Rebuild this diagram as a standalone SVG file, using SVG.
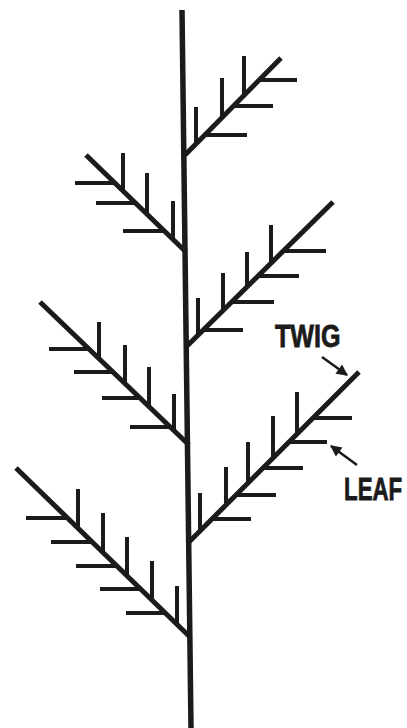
<svg xmlns="http://www.w3.org/2000/svg" width="407" height="728" viewBox="0 0 407 728">
  <style>
    .stem { stroke: #1b1b1b; stroke-width: 5.5; fill: none; stroke-linecap: butt; }
    .twig { stroke: #1b1b1b; stroke-width: 5; fill: none; stroke-linecap: butt; }
    .leaf { stroke: #1b1b1b; stroke-width: 4; fill: none; stroke-linecap: butt; }
    .ptr  { stroke: #1b1b1b; stroke-width: 2.5; fill: none; }
    .lbl  { font-family: "Liberation Sans", Arial, sans-serif; font-weight: bold; font-size: 31px; fill: #1b1b1b; stroke: #1b1b1b; stroke-width: 0.8; }
  </style>
  <defs>
    <marker id="head" viewBox="0 0 10 10" refX="9" refY="5" markerWidth="5" markerHeight="4.5" orient="auto" markerUnits="strokeWidth">
      <path d="M0,0 L10,5 L0,10 Z" fill="#1b1b1b"/>
    </marker>
  </defs>

  <rect width="407" height="728" fill="#ffffff"/>

  <!-- main stem -->
  <g id="stem">
    <line class="stem" x1="182" y1="10" x2="191" y2="728"/>
  </g>

  <!-- top right branch -->
  <g id="branch-1">
    <line class="twig" x1="185" y1="155" x2="281" y2="58"/>
    <line class="leaf" x1="196" y1="107" x2="196" y2="145"/>
    <line class="leaf" x1="204" y1="135" x2="247" y2="135"/>
    <line class="leaf" x1="222" y1="78" x2="222" y2="119"/>
    <line class="leaf" x1="233" y1="106" x2="273" y2="106"/>
    <line class="leaf" x1="244" y1="56" x2="244" y2="97"/>
    <line class="leaf" x1="259" y1="80" x2="297" y2="80"/>
  </g>

  <!-- upper left branch -->
  <g id="branch-2">
    <line class="twig" x1="86" y1="155" x2="186" y2="252"/>
    <line class="leaf" x1="75" y1="183" x2="116" y2="183"/>
    <line class="leaf" x1="123" y1="153" x2="123" y2="191"/>
    <line class="leaf" x1="96" y1="203" x2="136" y2="203"/>
    <line class="leaf" x1="147" y1="173" x2="147" y2="214"/>
    <line class="leaf" x1="123" y1="231" x2="166" y2="231"/>
    <line class="leaf" x1="173" y1="201" x2="173" y2="239"/>
  </g>

  <!-- middle right branch -->
  <g id="branch-3">
    <line class="twig" x1="186" y1="347" x2="333" y2="202"/>
    <line class="leaf" x1="198" y1="298" x2="198" y2="336"/>
    <line class="leaf" x1="202" y1="330" x2="243" y2="330"/>
    <line class="leaf" x1="223" y1="273" x2="223" y2="311"/>
    <line class="leaf" x1="231" y1="302" x2="274" y2="302"/>
    <line class="leaf" x1="247" y1="252" x2="247" y2="288"/>
    <line class="leaf" x1="257" y1="276" x2="299" y2="276"/>
    <line class="leaf" x1="271" y1="225" x2="271" y2="264"/>
    <line class="leaf" x1="282" y1="251" x2="326" y2="251"/>
  </g>

  <!-- middle left branch -->
  <g id="branch-4">
    <line class="twig" x1="40" y1="302" x2="189" y2="445"/>
    <line class="leaf" x1="49" y1="349" x2="90" y2="349"/>
    <line class="leaf" x1="99" y1="322" x2="99" y2="360"/>
    <line class="leaf" x1="74" y1="372" x2="114" y2="372"/>
    <line class="leaf" x1="125" y1="345" x2="125" y2="385"/>
    <line class="leaf" x1="102" y1="398" x2="141" y2="398"/>
    <line class="leaf" x1="149" y1="367" x2="149" y2="408"/>
    <line class="leaf" x1="130" y1="427" x2="171" y2="427"/>
    <line class="leaf" x1="174" y1="394" x2="174" y2="432"/>
  </g>

  <!-- lower right branch -->
  <g id="branch-5">
    <line class="twig" x1="189" y1="542" x2="359" y2="372"/>
    <line class="leaf" x1="200" y1="493" x2="200" y2="532"/>
    <line class="leaf" x1="211" y1="519" x2="251" y2="519"/>
    <line class="leaf" x1="226" y1="467" x2="226" y2="506"/>
    <line class="leaf" x1="235" y1="495" x2="276" y2="495"/>
    <line class="leaf" x1="248" y1="442" x2="248" y2="484"/>
    <line class="leaf" x1="262" y1="468" x2="303" y2="468"/>
    <line class="leaf" x1="273" y1="416" x2="273" y2="459"/>
    <line class="leaf" x1="288" y1="442" x2="327" y2="442"/>
    <line class="leaf" x1="297" y1="392" x2="297" y2="435"/>
    <line class="leaf" x1="312" y1="418" x2="352" y2="418"/>
  </g>

  <!-- lower left branch -->
  <g id="branch-6">
    <line class="twig" x1="16" y1="468" x2="190" y2="637"/>
    <line class="leaf" x1="26" y1="518" x2="68" y2="518"/>
    <line class="leaf" x1="78" y1="489" x2="78" y2="529"/>
    <line class="leaf" x1="51" y1="542" x2="93" y2="542"/>
    <line class="leaf" x1="103" y1="513" x2="103" y2="553"/>
    <line class="leaf" x1="76" y1="566" x2="118" y2="566"/>
    <line class="leaf" x1="127" y1="537" x2="127" y2="577"/>
    <line class="leaf" x1="100" y1="589" x2="142" y2="589"/>
    <line class="leaf" x1="152" y1="561" x2="152" y2="601"/>
    <line class="leaf" x1="126" y1="613" x2="166" y2="613"/>
    <line class="leaf" x1="177" y1="586" x2="177" y2="625"/>
  </g>

  <!-- labels (bold type squeezed horizontally) -->
  <g id="label-twig" transform="translate(275,347) scale(0.81,1)">
    <text class="lbl" x="0" y="0">TWIG</text>
  </g>
  <g id="label-leaf" transform="translate(344,500) scale(0.72,1)">
    <text class="lbl" x="0" y="0">LEAF</text>
  </g>

  <!-- pointers from labels -->
  <g id="connectors">
    <line class="ptr" x1="322" y1="357" x2="347" y2="375" marker-end="url(#head)"/>
    <line class="ptr" x1="357" y1="465" x2="331" y2="446" marker-end="url(#head)"/>
  </g>
</svg>
